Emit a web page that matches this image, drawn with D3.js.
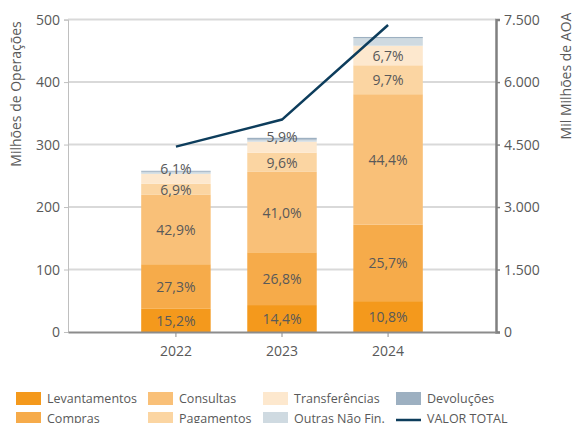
<!DOCTYPE html>
<html lang="pt">

<head>
    <meta charset="UTF-8">
    <title>Operações por tipo</title>
    <style>
        body {
            margin: 0;
            background: #fff;
        }

        text {
            font-family: "Open Sans", sans-serif;
            fill: #595959;
        }

        .tick text {
            font-size: 14px;
        }

        .segLabel {
            font-size: 14px;
            text-anchor: middle;
            dominant-baseline: central;
        }

        .legend text {
            font-size: 12.5px;
        }
    </style>
</head>

<body>
    <script src="https://d3js.org/d3.v7.min.js"></script>
    <script>
        var width = 574;
        var height = 423;

        // dados (milhões de operações)
        var years = ['2022', '2023', '2024'];
        var seriesNames = ['Levantamentos', 'Compras', 'Consultas', 'Pagamentos', 'Transferências', 'Outras Não Fin.', 'Devoluções'];
        var levantamentos = [37.8, 43.1, 49.4];
        var compras = [70.7, 84.5, 122.3];
        var consultas = [111.6, 128.7, 208.9];
        var pagamentos = [17.1, 30.8, 46.3];
        var transferencias = [16.0, 17.5, 31.3];
        var outras = [3.2, 3.2, 12.0];
        var devolucoes = [1.6, 3.0, 2.0];
        // mil milhões de AOA
        var valorTotal = [4450, 5100, 7370];

        // rótulos em percentagem
        var pctLevantamentos = ['15,2%', '14,4%', '10,8%'];
        var pctCompras = ['27,3%', '26,8%', '25,7%'];
        var pctConsultas = ['42,9%', '41,0%', '44,4%'];
        var pctPagamentos = ['6,9%', '9,6%', '9,7%'];
        var pctTransferencias = ['6,1%', '5,9%', '6,7%'];

        var leftTicks = [0, 100, 200, 300, 400, 500];
        var rightTicks = [0, 1500, 3000, 4500, 6000, 7500];

        var colors = ['#F4991C', '#F6AB4A', '#F9C078', '#FBD5A2', '#FDE8CE', '#CFDAE1', '#9DB0C1'];
        var lineColor = '#0D3D5C';

        var valuesBySeries = [levantamentos, compras, consultas, pagamentos, transferencias, outras, devolucoes];
        var labelsBySeries = [pctLevantamentos, pctCompras, pctConsultas, pctPagamentos, pctTransferencias, null, null];

        var table = years.map(function (y, i) {
            var row = { year: y };
            seriesNames.forEach(function (s, k) { row[s] = valuesBySeries[k][i]; });
            return row;
        });

        var plot = { left: 68, right: 496, top: 19.6, bottom: 332 };

        var svg = d3.select('body').append('svg').attr('width', width).attr('height', height);

        var xScale = d3.scaleBand()
            .domain(years)
            .range([plot.left, plot.right])
            .paddingInner(0.345)
            .paddingOuter(0.69);

        var yScale = d3.scaleLinear().domain([0, 500]).range([plot.bottom, plot.top]);
        var y2Scale = d3.scaleLinear().domain([0, 7500]).range([plot.bottom, plot.top]);

        // linhas de grelha
        svg.append('g').selectAll('line')
            .data(leftTicks.slice(1))
            .enter().append('line')
            .attr('x1', plot.left).attr('x2', plot.right)
            .attr('y1', function (d) { return yScale(d); })
            .attr('y2', function (d) { return yScale(d); })
            .attr('stroke', '#D9D9D9').attr('stroke-width', 2);

        // barras empilhadas
        var stack = d3.stack().keys(seriesNames)(table);

        var layers = svg.append('g').selectAll('g')
            .data(stack)
            .enter().append('g')
            .attr('fill', function (d, i) { return colors[i]; });

        layers.selectAll('rect')
            .data(function (d) { return d; })
            .enter().append('rect')
            .attr('x', function (d) { return xScale(d.data.year); })
            .attr('y', function (d) { return yScale(d[1]); })
            .attr('width', xScale.bandwidth())
            .attr('height', function (d) { return yScale(d[0]) - yScale(d[1]); });

        // rótulos (se colidir com o rótulo de baixo, sobe para o topo do segmento)
        var lastY = years.map(function () { return Infinity; });
        stack.forEach(function (layer, k) {
            var labels = labelsBySeries[k];
            if (!labels) return;
            svg.append('g').selectAll('text')
                .data(layer)
                .enter().append('text')
                .attr('class', 'segLabel')
                .attr('x', function (d) { return xScale(d.data.year) + xScale.bandwidth() / 2; })
                .attr('y', function (d, i) {
                    var top = yScale(d[1]), bottom = yScale(d[0]);
                    var y = (top + bottom) / 2;
                    if (lastY[i] - y < 17) y = top - 5;
                    lastY[i] = y;
                    return y;
                })
                .text(function (d, i) { return labels[i]; });
        });

        // eixo esquerdo
        var leftAxis = svg.append('g')
            .attr('transform', 'translate(' + plot.left + ',0)')
            .call(d3.axisLeft(yScale).tickValues(leftTicks).tickSize(4).tickPadding(4));
        leftAxis.select('.domain').attr('stroke', '#BFBFBF');
        leftAxis.selectAll('.tick line').attr('stroke', '#BFBFBF');

        // eixo direito
        var rightAxis = svg.append('g')
            .attr('transform', 'translate(' + plot.right + ',0)')
            .call(d3.axisRight(y2Scale).tickValues(rightTicks).tickSize(4).tickPadding(4)
                .tickFormat(function (d) { return d3.format(',')(d).replace(/,/g, '.'); }));
        rightAxis.select('.domain').attr('stroke', '#808080').attr('stroke-width', 2.5);
        rightAxis.selectAll('.tick line').attr('stroke', '#808080').attr('stroke-width', 1.5);

        // eixo x
        var xAxis = svg.append('g')
            .attr('transform', 'translate(0,' + plot.bottom + ')')
            .call(d3.axisBottom(xScale).tickSize(5).tickPadding(9).tickSizeOuter(0));
        xAxis.select('.domain').attr('stroke', '#8C8C8C').attr('stroke-width', 2);
        xAxis.selectAll('.tick line').attr('stroke', '#8C8C8C');

        svg.selectAll('.tick text').style('font-family', '"Open Sans", sans-serif').attr('fill', '#595959');

        // linha VALOR TOTAL
        var line = d3.line()
            .x(function (d, i) { return xScale(years[i]) + xScale.bandwidth() / 2; })
            .y(function (d) { return y2Scale(d); });

        svg.append('path')
            .datum(valorTotal)
            .attr('d', line)
            .attr('fill', 'none')
            .attr('stroke', lineColor)
            .attr('stroke-width', 2.5);

        // títulos dos eixos
        svg.append('text')
            .attr('transform', 'translate(21,94) rotate(-90)')
            .attr('text-anchor', 'middle')
            .style('font-size', '14px')
            .text('Milhões de Operações');

        svg.append('text')
            .attr('transform', 'translate(571,76) rotate(-90)')
            .attr('text-anchor', 'middle')
            .style('font-size', '14px')
            .text('Mil Milhões de AOA');

        // legenda
        var legendItems = seriesNames.concat(['VALOR TOTAL']);
        var colX = [16, 148, 263, 396];
        var legend = svg.append('g').attr('class', 'legend');
        legendItems.forEach(function (name, i) {
            var col = Math.floor(i / 2), row = i % 2;
            var gx = colX[col], gy = 392 + row * 20;
            if (name === 'VALOR TOTAL') {
                legend.append('line')
                    .attr('x1', gx).attr('x2', gx + 25)
                    .attr('y1', gy + 8).attr('y2', gy + 8)
                    .attr('stroke', lineColor).attr('stroke-width', 2.5);
            } else {
                legend.append('rect')
                    .attr('x', gx).attr('y', gy)
                    .attr('width', 25).attr('height', 13)
                    .attr('fill', colors[i]);
            }
            legend.append('text')
                .attr('x', gx + 31).attr('y', gy + 11)
                .text(name);
        });
    </script>
</body>

</html>
